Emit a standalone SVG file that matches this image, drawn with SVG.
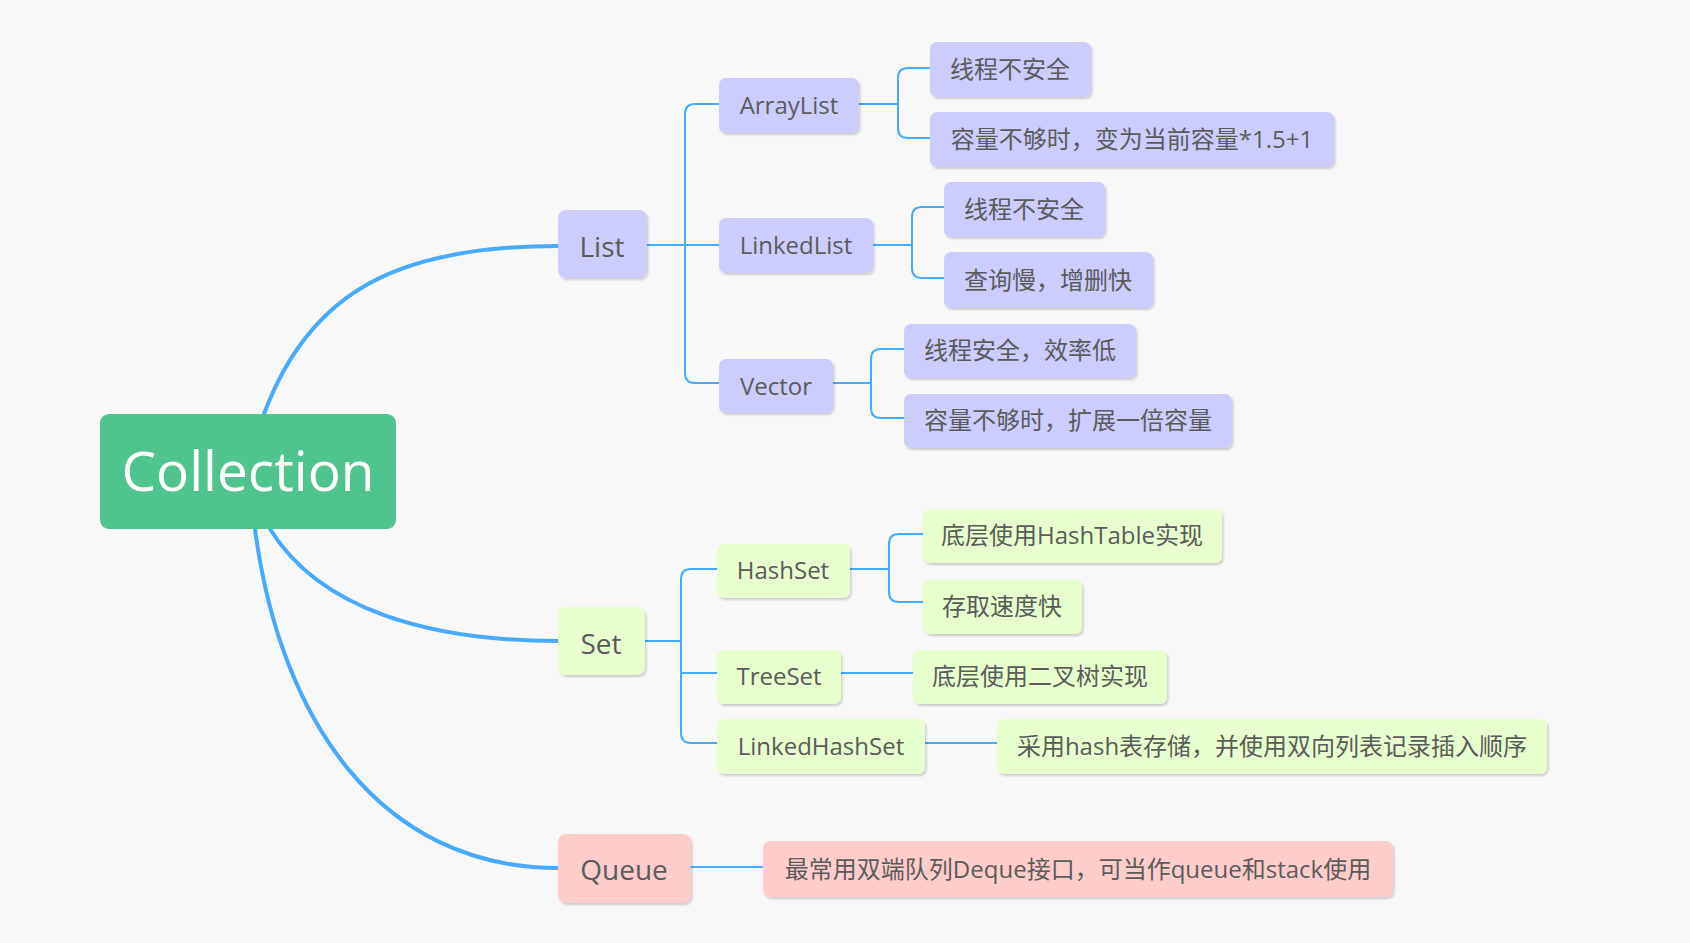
<svg xmlns="http://www.w3.org/2000/svg" width="1690" height="943" viewBox="0 0 1690 943">
<defs>
<filter id="sh" x="-10%" y="-20%" width="120%" height="150%">
<feDropShadow dx="1.5" dy="2" stdDeviation="1.2" flood-color="#000" flood-opacity="0.18"/>
</filter>
<style>
.bg{fill:#f8f8f8}
.main{fill:none;stroke:#47aafc;stroke-width:4;stroke-linecap:round}
.br{fill:none;stroke:#47aafc;stroke-width:2}
.p{fill:#ccccff;filter:url(#sh)}
.g{fill:#e6ffcc;filter:url(#sh)}
.r{fill:#ffcccc;filter:url(#sh)}
text{font-family:"Open Sans","Noto Sans","Noto Sans CJK SC",sans-serif;fill:#5b5b5b;text-anchor:middle}
.t2{font-size:28px}
.t3{font-size:24px}
.t4{font-size:24px}
.root{font-size:55px;fill:#ffffff}
</style>
</defs>
<rect class="bg" x="0" y="0" width="1690" height="943"/>
<g id="connectors">
<path class="main" d="M264,414 C310,290 400,246 558,246"/>
<path class="main" d="M270,529 C320,610 430,641 558,641"/>
<path class="main" d="M255,529 C280,720 380,868 558,868"/>
<path class="br" d="M647,245 H719"/>
<path class="br" d="M719,104 H695 Q685,104 685,114 V373 Q685,383 695,383 H719"/>
<path class="br" d="M859,104 H898"/>
<path class="br" d="M930,68 H908 Q898,68 898,78 V128 Q898,138 908,138 H930"/>
<path class="br" d="M873,245 H912"/>
<path class="br" d="M944,207 H922 Q912,207 912,217 V268 Q912,278 922,278 H944"/>
<path class="br" d="M833,383 H871"/>
<path class="br" d="M904,349 H881 Q871,349 871,359 V408 Q871,418 881,418 H904"/>
<path class="br" d="M645,641 H681"/>
<path class="br" d="M717,569 H691 Q681,569 681,579 V733 Q681,743 691,743 H717"/>
<path class="br" d="M681,673 H717"/>
<path class="br" d="M850,569 H889"/>
<path class="br" d="M923,534 H899 Q889,534 889,544 V592 Q889,602 899,602 H923"/>
<path class="br" d="M841,673 H913"/>
<path class="br" d="M925,743 H997"/>
<path class="br" d="M691,867 H763"/>
</g>
<g id="collection"><rect x="100" y="414" width="296" height="115" rx="9" fill="#50c48f"/><text class="root" x="248" y="491">Collection</text></g>
<g id="list"><rect class="p" x="558" y="210" width="89" height="68" rx="8"/><text class="t2" x="602" y="257">List</text></g>
<g id="set"><rect class="g" x="558" y="607" width="87" height="68" rx="8"/><text class="t2" x="601" y="654">Set</text></g>
<g id="queue"><rect class="r" x="558" y="834" width="133" height="69" rx="8"/><text class="t2" x="624" y="880">Queue</text></g>
<g id="arraylist"><rect class="p" x="719" y="78" width="140" height="55" rx="7"/><text class="t3" x="789" y="114">ArrayList</text></g>
<g id="linkedlist"><rect class="p" x="719" y="218" width="154" height="55" rx="7"/><text class="t3" x="796" y="254">LinkedList</text></g>
<g id="vector"><rect class="p" x="719" y="359" width="114" height="54" rx="7"/><text class="t3" x="776" y="395">Vector</text></g>
<g id="al1"><rect class="p" x="930" y="42" width="161" height="55" rx="7"/><text class="t4" x="1010" y="78">线程不安全</text></g>
<g id="al2"><rect class="p" x="930" y="112" width="404" height="55" rx="7"/><text class="t4" x="1132" y="148">容量不够时，变为当前容量*1.5+1</text></g>
<g id="ll1"><rect class="p" x="944" y="182" width="161" height="55" rx="7"/><text class="t4" x="1024" y="218">线程不安全</text></g>
<g id="ll2"><rect class="p" x="944" y="252" width="209" height="56" rx="7"/><text class="t4" x="1048" y="289">查询慢，增删快</text></g>
<g id="v1"><rect class="p" x="904" y="324" width="232" height="54" rx="7"/><text class="t4" x="1020" y="359">线程安全，效率低</text></g>
<g id="v2"><rect class="p" x="904" y="394" width="328" height="54" rx="7"/><text class="t4" x="1068" y="429">容量不够时，扩展一倍容量</text></g>
<g id="hashset"><rect class="g" x="717" y="544" width="133" height="54" rx="7"/><text class="t3" x="783" y="579">HashSet</text></g>
<g id="treeset"><rect class="g" x="717" y="650" width="124" height="54" rx="7"/><text class="t3" x="779" y="685">TreeSet</text></g>
<g id="linkedhashset"><rect class="g" x="717" y="719" width="208" height="55" rx="7"/><text class="t3" x="821" y="755">LinkedHashSet</text></g>
<g id="hs1"><rect class="g" x="923" y="509" width="299" height="54" rx="7"/><text class="t4" x="1072" y="544">底层使用HashTable实现</text></g>
<g id="hs2"><rect class="g" x="923" y="580" width="159" height="54" rx="7"/><text class="t4" x="1002" y="615">存取速度快</text></g>
<g id="ts1"><rect class="g" x="913" y="650" width="254" height="54" rx="7"/><text class="t4" x="1040" y="685">底层使用二叉树实现</text></g>
<g id="lhs1"><rect class="g" x="997" y="719" width="550" height="55" rx="7"/><text class="t4" x="1272" y="755">采用hash表存储，并使用双向列表记录插入顺序</text></g>
<g id="q1"><rect class="r" x="763" y="841" width="630" height="56" rx="7"/><text class="t4" x="1078" y="878">最常用双端队列Deque接口，可当作queue和stack使用</text></g>
</svg>
